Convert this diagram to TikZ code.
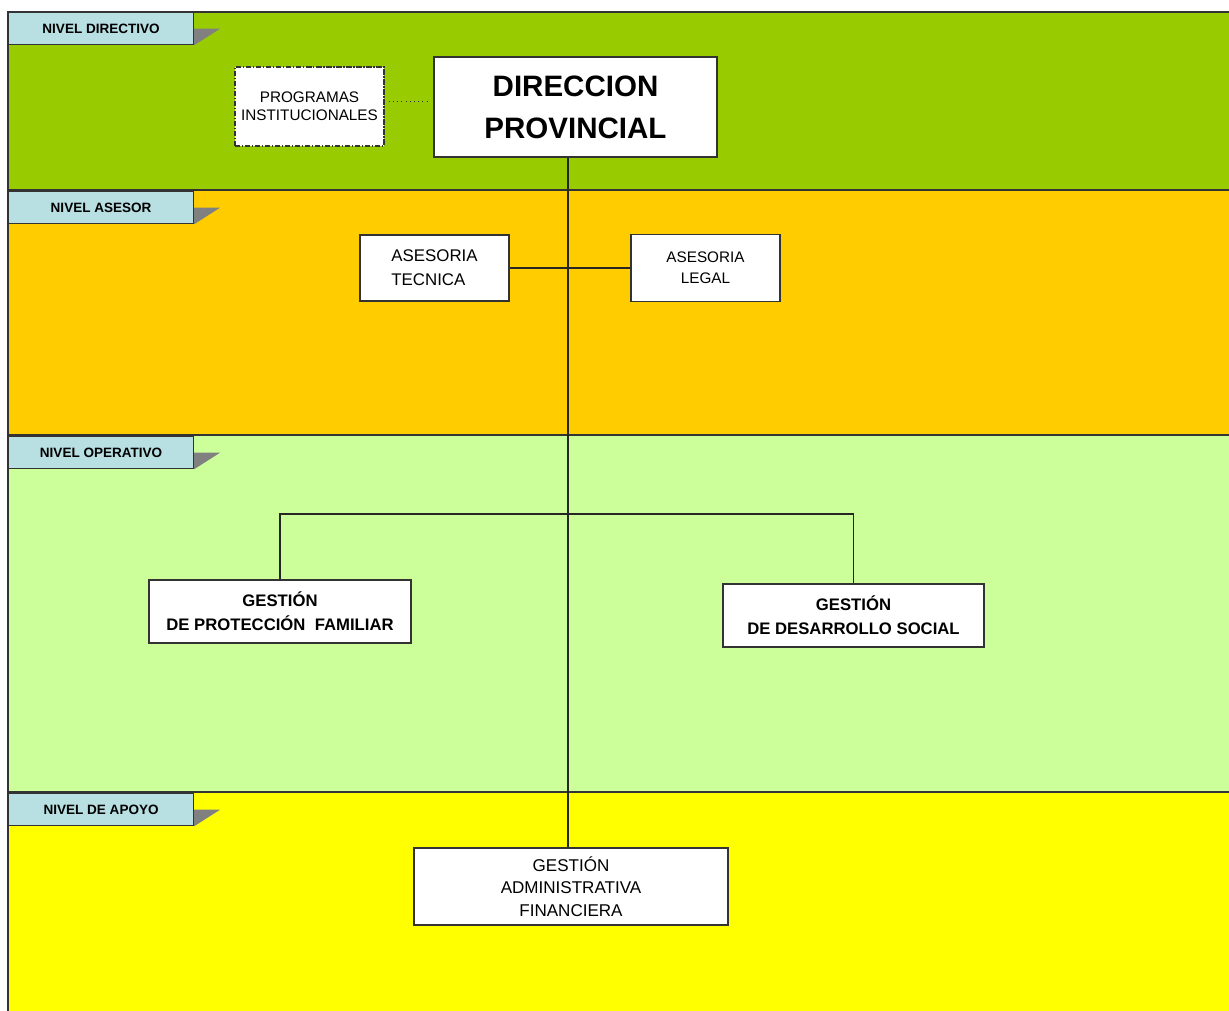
\documentclass[tikz,border=0pt]{standalone}
\usepackage{fontspec}
\setmainfont{Liberation Sans}
\definecolor{directivo}{HTML}{99CC00}
\definecolor{asesor}{HTML}{FFCC00}
\definecolor{operativo}{HTML}{CCFF99}
\definecolor{apoyo}{HTML}{FFFF00}
\definecolor{etiqueta}{HTML}{B8DFE2}
\definecolor{borde}{HTML}{333333}
\begin{document}
\begin{tikzpicture}[x=0.02cm, y=-0.02cm,
    banda/.style={draw=borde, line width=0.9pt},
    nivel/.style={draw=borde, fill=etiqueta, line width=0.7pt, anchor=north west,
      minimum width=3.7cm, minimum height=0.64cm, inner sep=0pt,
      font=\fontsize{7.7}{9}\selectfont\bfseries},
    sombra/.style={fill=gray},
    caja/.style={draw=borde, fill=white, line width=0.7pt, inner sep=0pt, align=center},
    linea/.style={draw=black!85, line width=0.7pt}]
  \clip (0,0) rectangle (1229,1010);
  % niveles
  \draw[banda, fill=directivo] (8,12) rectangle (1240,190);
  \draw[banda, fill=asesor] (8,190) rectangle (1240,435);
  \draw[banda, fill=operativo] (8,435) rectangle (1240,792);
  \draw[banda, fill=apoyo] (8,792) rectangle (1240,1020);
  \node[nivel] (ndir) at (8,12) {NIVEL DIRECTIVO};
  \node[nivel] (nase) at (8,191) {NIVEL ASESOR};
  \node[nivel] (nope) at (8,436) {NIVEL OPERATIVO};
  \node[nivel] (napo) at (8,793) {NIVEL DE APOYO};
  \foreach \n in {ndir, nase, nope, napo}
    \fill[sombra] (\n.east) -- ++(26,0) -- (\n.south east) -- cycle;
  % cajas
  \node[caja, densely dash dot, minimum width=2.98cm, minimum height=1.58cm,
    font=\fontsize{8.7}{10.2}\selectfont] (prog) at (309.5,106.5) {PROGRAMAS\\INSTITUCIONALES};
  \node[caja, minimum width=5.66cm, minimum height=2cm,
    font=\fontsize{16.8}{23.8}\selectfont\bfseries] (dir) at (575.5,107) {DIRECCION\\PROVINCIAL};
  \node[caja, align=left, minimum width=2.98cm, minimum height=1.32cm,
    font=\fontsize{9.6}{13.6}\selectfont] (tec) at (434.5,268) {ASESORIA\\TECNICA};
  \node[caja, minimum width=2.98cm, minimum height=1.34cm,
    font=\fontsize{8.7}{11.9}\selectfont] (leg) at (705.5,268) {ASESORIA\\LEGAL};
  \node[caja, minimum width=5.24cm, minimum height=1.26cm,
    font=\fontsize{9.5}{13.6}\selectfont\bfseries] (prot) at (280,611.5) {GESTIÓN\\DE PROTECCIÓN\ \ FAMILIAR};
  \node[caja, minimum width=5.22cm, minimum height=1.26cm,
    font=\fontsize{9.5}{13.6}\selectfont\bfseries] (des) at (853.5,615.5) {GESTIÓN\\DE DESARROLLO SOCIAL};
  \node[caja, minimum width=6.28cm, minimum height=1.54cm,
    font=\fontsize{9.7}{12.8}\selectfont] (adm) at (571,886.5) {GESTIÓN\\ADMINISTRATIVA\\FINANCIERA};
  % lineas
  \coordinate (tronco) at (568,514);
  \draw[dotted, black!80, shorten <=2.3pt, shorten >=3.4pt]
    ([yshift=3pt]prog.east) -- ([yshift=3pt]prog.east -| dir.west);
  \draw[linea] (dir.south -| tronco) -- (adm.north -| tronco);
  \draw[linea] (tec.east) -- (leg.west);
  \draw[linea] (prot.north) |- (tronco) -| (des.north);
\end{tikzpicture}
\end{document}
